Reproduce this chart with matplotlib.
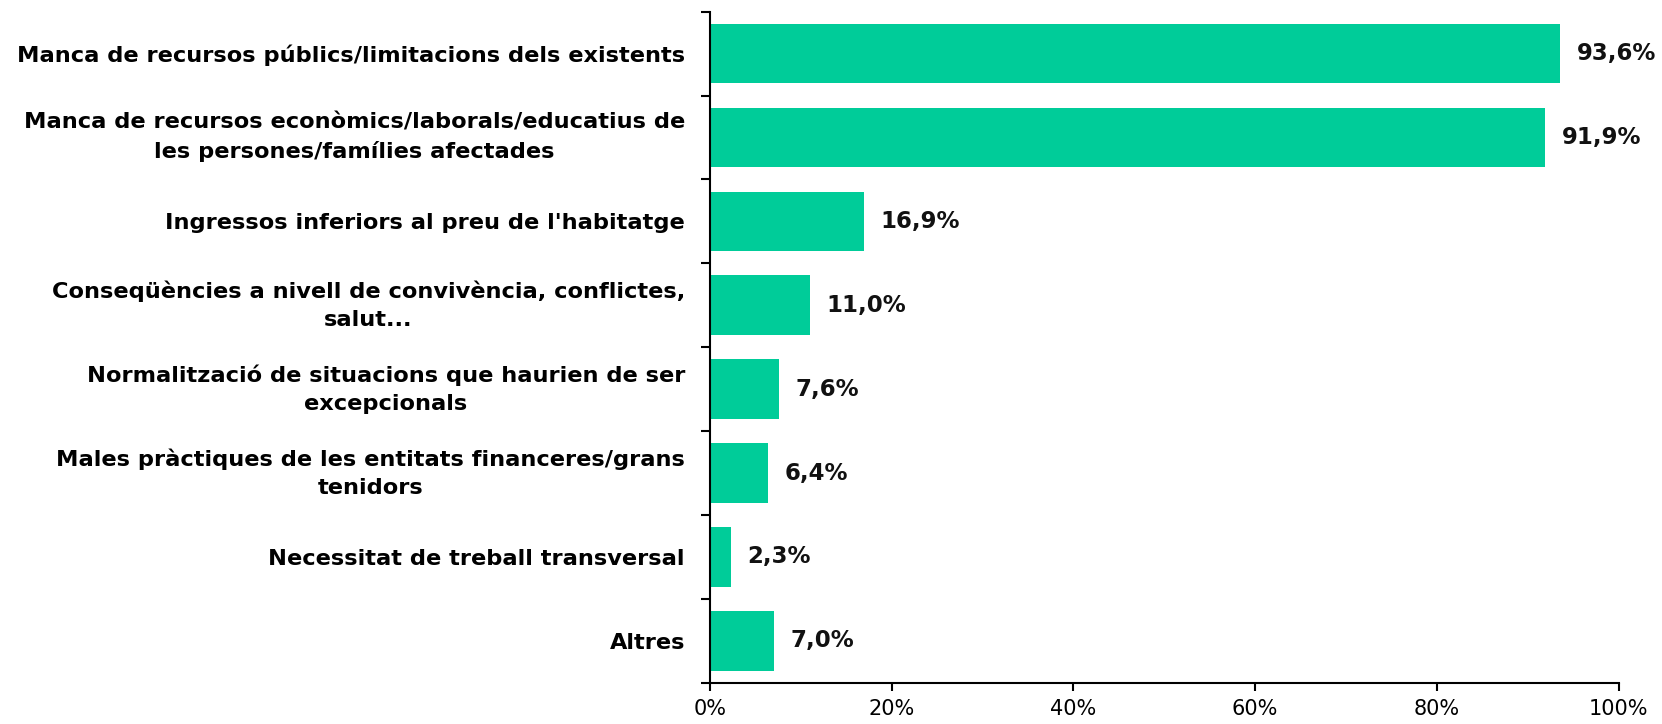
import matplotlib
matplotlib.use("Agg")
import matplotlib.pyplot as plt
import numpy as np

categories = [
    "Manca de recursos públics/limitacions dels existents",
    "Manca de recursos econòmics/laborals/educatius de\nles persones/famílies afectades",
    "Ingressos inferiors al preu de l'habitatge",
    "Conseqüències a nivell de convivència, conflictes,\nsalut...",
    "Normalització de situacions que haurien de ser\nexcepcionals",
    "Males pràctiques de les entitats financeres/grans\ntenidors",
    "Necessitat de treball transversal",
    "Altres",
]
values = [93.6, 91.9, 16.9, 11.0, 7.6, 6.4, 2.3, 7.0]
value_labels = ["93,6%", "91,9%", "16,9%", "11,0%", "7,6%", "6,4%", "2,3%", "7,0%"]
xticks = [0, 20, 40, 60, 80, 100]
xtick_labels = ["0%", "20%", "40%", "60%", "80%", "100%"]

color = "#00CC99"

fig = plt.figure(figsize=(16.62, 7.24), dpi=100)
ax = fig.add_axes([710/1662, 1-682.7/724, (1618.5-710)/1662, (682.7-11.7)/724])

y = np.arange(len(categories))
ax.barh(y, values, height=0.71, color=color, edgecolor="none")
ax.set_ylim(len(categories)-0.5, -0.5)
ax.set_xlim(0, 100)

for yi, v, lab in zip(y, values, value_labels):
    ax.annotate(lab, (v, yi), xytext=(12, 0), textcoords="offset points",
                va="center", ha="left", fontsize=16.5, fontweight="bold", color="#111111")

ax.set_yticks(y)
ax.set_yticklabels(categories, fontsize=16.2, fontweight="bold", multialignment="center",
                   linespacing=1.5)
for t in ax.get_yticklabels():
    if "\n" in t.get_text():
        t.set_va("center")
ax.tick_params(axis="y", which="major", length=0, pad=18)
ax.set_yticks(np.arange(len(categories)+1)-0.5, minor=True)
ax.tick_params(axis="y", which="minor", length=6.5, width=1.5, direction="out")

ax.set_xticks(xticks)
ax.set_xticklabels(xtick_labels, fontsize=15)
ax.tick_params(axis="x", length=6, width=1.5, direction="out", pad=6)

for s in ["top", "right"]:
    ax.spines[s].set_visible(False)
for s in ["left", "bottom"]:
    ax.spines[s].set_linewidth(1.5)

fig.savefig("out.png", dpi=100)
